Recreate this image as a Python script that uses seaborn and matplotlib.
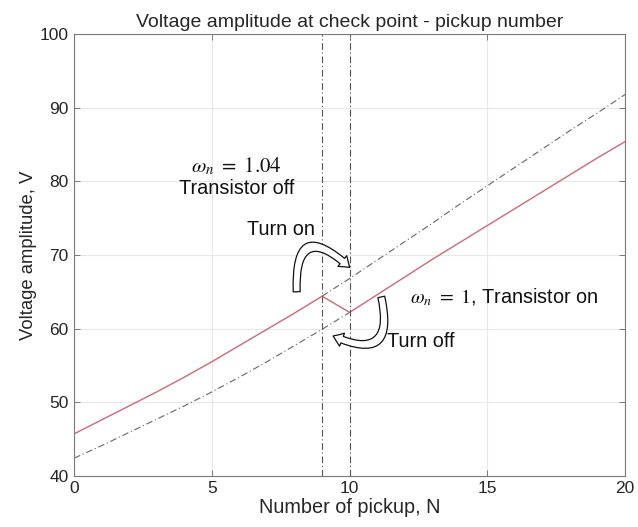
import numpy as np
import pandas as pd
import matplotlib
matplotlib.use("Agg")
import matplotlib.pyplot as plt
from matplotlib.patches import FancyArrowPatch
import seaborn as sns

# Number of pickups
pickups = list(range(0, 21))
# Voltage amplitude with the transistor off (omega_n = 1.04)
v_off = [45.7, 47.6, 49.5, 51.4, 53.4, 55.5, 57.7, 59.9, 62.1, 64.4, 66.8,
         69.3, 71.8, 74.3, 76.9, 79.4, 81.9, 84.4, 86.9, 89.3, 91.8]
# Voltage amplitude with the transistor on (omega_n = 1)
v_on = [42.4, 44.1, 45.9, 47.7, 49.5, 51.4, 53.4, 55.5, 57.7, 59.9, 62.2,
        64.6, 67.0, 69.4, 71.7, 74.0, 76.3, 78.6, 80.9, 83.2, 85.4]
# Pickup counts where the transistor switches
switch_on_n = 9
switch_off_n = 10

sns.set_theme(style="whitegrid")
plt.rcParams["font.family"] = ["Liberation Sans", "DejaVu Sans"]
plt.rcParams["mathtext.fontset"] = "stix"

fig = plt.figure(figsize=(6.38, 5.27), dpi=100)
ax = fig.add_axes([0.116, 0.097, 0.864, 0.8385])

df_off = pd.DataFrame({"N": pickups, "V": v_off})
df_on = pd.DataFrame({"N": pickups, "V": v_on})

# Operating curve: off-branch until the switch, then on-branch
run = pd.concat([df_off[df_off.N <= switch_on_n], df_on[df_on.N >= switch_off_n]])
hidden_on = df_on[df_on.N <= switch_off_n]
hidden_off = df_off[df_off.N >= switch_on_n]

dashdot = (0, (6, 2.5, 1, 2.5))
sns.lineplot(data=hidden_on, x="N", y="V", ax=ax, color="#666666",
             lw=0.8, linestyle=dashdot, sort=False)
sns.lineplot(data=hidden_off, x="N", y="V", ax=ax, color="#666666",
             lw=0.8, linestyle=dashdot, sort=False)
sns.lineplot(data=run, x="N", y="V", ax=ax, color="#c96a78", lw=1.0, sort=False)

for xv in (switch_on_n, switch_off_n):
    ax.axvline(xv, color="#555555", lw=0.8, linestyle=dashdot)

ax.set_xlim(0, 20)
ax.set_ylim(40, 100)
ax.set_xticks([0, 5, 10, 15, 20])
ax.set_yticks([40, 50, 60, 70, 80, 90, 100])
ax.grid(True, color="#e8e8e8", lw=0.8)
ax.set_facecolor("white")
for s in ax.spines.values():
    s.set_color("#7a7a7a")
    s.set_linewidth(0.8)
ax.tick_params(direction="in", length=4, width=0.7, color="#7a7a7a",
               labelsize=12.5, labelcolor="#262626", top=True, right=True,
               bottom=True, left=True, pad=4)

ax.set_title("Voltage amplitude at check point - pickup number",
             fontsize=14, color="#262626", pad=5)
ax.set_xlabel("Number of pickup, N", fontsize=14.3, color="#262626", labelpad=1)
ax.set_ylabel("Voltage amplitude, V", fontsize=13.3, color="#262626", labelpad=2)

ax.text(5.9, 82.1, r"$\omega_n\ =\ 1.04$", ha="center", va="center",
        fontsize=15, color="#111111")
ax.text(5.9, 79.0, "Transistor off", ha="center", va="center", fontsize=14.3,
        color="#111111")
ax.text(7.5, 73.4, "Turn on", ha="center", va="center", fontsize=14.3,
        color="#111111")
ax.text(12.2, 64.3, r"$\omega_n\ =\ 1$" + ", Transistor on", ha="left",
        va="center", fontsize=14.3, color="#111111")
ax.text(11.35, 58.3, "Turn off", ha="left", va="center", fontsize=14.3,
        color="#111111")

style = "simple,head_length=7,head_width=10,tail_width=5"
ax.add_patch(FancyArrowPatch((8.08, 65.0), (10.0, 68.3),
                             connectionstyle="arc3,rad=-1.2",
                             arrowstyle=style, facecolor="white",
                             edgecolor="#111111", lw=0.9,
                             shrinkA=0, shrinkB=0, zorder=5))
ax.add_patch(FancyArrowPatch((11.15, 64.3), (9.4, 59.0),
                             connectionstyle="arc3,rad=-1.0",
                             arrowstyle=style, facecolor="white",
                             edgecolor="#111111", lw=0.9,
                             shrinkA=0, shrinkB=0, zorder=5))

fig.savefig("out.png", dpi=100)
